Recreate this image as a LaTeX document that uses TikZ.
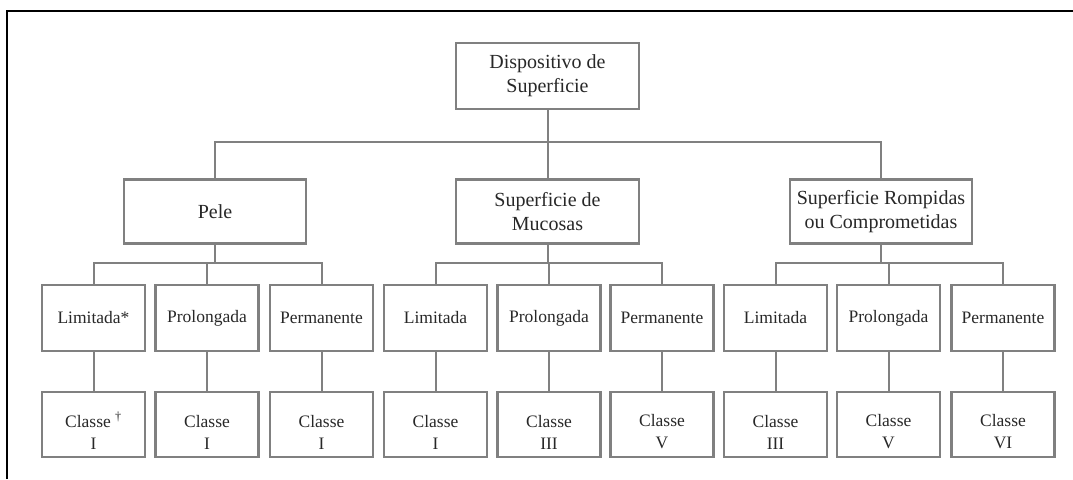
\documentclass[tikz,border=0pt]{standalone}
\usepackage{fontspec}
\setmainfont{Liberation Serif}
\definecolor{boxgray}{RGB}{128,128,128}
\definecolor{txt}{RGB}{40,40,40}
\begin{document}
\begin{tikzpicture}[x=1pt,y=-1pt,
  bigbox/.style={draw=boxgray, line width=2.2pt, minimum width=182pt, minimum height=64pt,
    inner sep=0pt, align=center, text=txt, font=\fontsize{20}{24}\selectfont},
  smallbox/.style={draw=boxgray, line width=2.2pt, minimum width=103pt, minimum height=66pt,
    inner sep=0pt, align=center, text=txt, font=\fontsize{17.5}{22}\selectfont},
  conn/.style={draw=boxgray, line width=2pt},
  frame/.style={draw=black, line width=1.6pt}]
\useasboundingbox (0,0) rectangle (1073,479);
\fill[white] (0,0) rectangle (1073,479);
% frame
\coordinate (fl) at (7,479);
\coordinate (fc) at (7,11);
\coordinate (fr) at (1073,11);
\draw[frame] (fl) -- (fc) -- (fr);
% top
\node[bigbox, minimum width=183pt, minimum height=66pt] (top) at (547.5,76) {Dispositivo de\\Superficie};
% level 2
\node[bigbox] (pele) at (215,211.5) {Pele};
\node[bigbox, minimum width=183pt] (muc) at (547.5,211.5) {Superficie de\\Mucosas};
\node[bigbox] (rom) at (881,211.5) {Superficie Rompidas\\ou Comprometidas};
% level 3
\node[smallbox] (a1) at (93.5,318) {Limitada*};
\node[smallbox] (a2) at (207,318) {Prolongada};
\node[smallbox] (a3) at (321.5,318) {Permanente};
\node[smallbox] (b1) at (435.5,318) {Limitada};
\node[smallbox] (b2) at (549,318) {Prolongada};
\node[smallbox] (b3) at (662,318) {Permanente};
\node[smallbox] (c1) at (775.5,318) {Limitada};
\node[smallbox] (c2) at (888.5,318) {Prolongada};
\node[smallbox] (c3) at (1003,318) {Permanente};
% level 4
\node[smallbox, minimum height=65pt] (a1c) at (93.5,424.5) {\rule{0pt}{27pt}Classe \textsuperscript{\textdagger}\\I};
\node[smallbox, minimum height=65pt] (a2c) at (207,424.5) {\rule{0pt}{27pt}Classe\\I};
\node[smallbox, minimum height=65pt] (a3c) at (321.5,424.5) {\rule{0pt}{27pt}Classe\\I};
\node[smallbox, minimum height=65pt] (b1c) at (435.5,424.5) {\rule{0pt}{27pt}Classe\\I};
\node[smallbox, minimum height=65pt] (b2c) at (549,424.5) {\rule{0pt}{27pt}Classe\\III};
\node[smallbox, minimum height=65pt] (b3c) at (662,424.5) {\rule{0pt}{27pt}Classe\\V};
\node[smallbox, minimum height=65pt] (c1c) at (775.5,424.5) {\rule{0pt}{27pt}Classe\\III};
\node[smallbox, minimum height=65pt] (c2c) at (888.5,424.5) {\rule{0pt}{27pt}Classe\\V};
\node[smallbox, minimum height=65pt] (c3c) at (1003,424.5) {\rule{0pt}{27pt}Classe\\VI};
% buses
\coordinate (bus1) at (0,142);
\coordinate (bus2) at (0,263);
\draw[conn] (top.south) -- (muc.north);
\draw[conn] (pele.north) -- (pele.north |- bus1) -- (rom.north |- bus1) -- (rom.north);
\foreach \p/\l/\m/\r in {pele/a1/a2/a3, muc/b1/b2/b3, rom/c1/c2/c3} {
  \draw[conn] (\p.south) -- (\p.south |- bus2);
  \draw[conn] (\l.north) -- (\l.north |- bus2) -- (\r.north |- bus2) -- (\r.north);
  \draw[conn] (\m.north) -- (\m.north |- bus2);
}
\foreach \n in {a1,a2,a3,b1,b2,b3,c1,c2,c3} {
  \draw[conn] (\n.south) -- (\n c.north);
}
\end{tikzpicture}
\end{document}
